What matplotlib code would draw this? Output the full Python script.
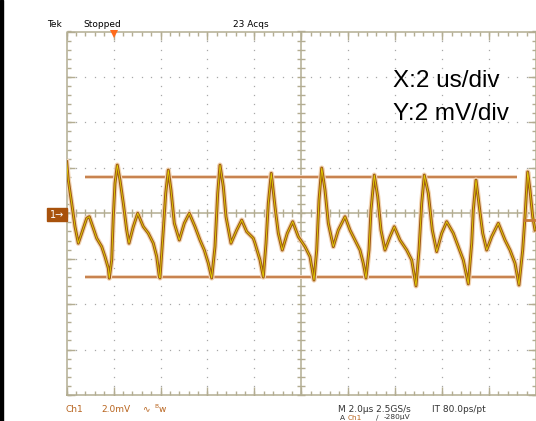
import numpy as np
import matplotlib
matplotlib.use('Agg')
import matplotlib.pyplot as plt
from matplotlib.patches import Rectangle
from matplotlib.markers import TICKDOWN, TICKUP, TICKLEFT, TICKRIGHT

# ---- data (time in us, voltage in mV) ----
time_us = [0.000, 0.068, 0.213, 0.354, 0.494, 0.639, 0.852, 0.963, 1.134, 1.278,
           1.492, 1.632, 1.773, 1.815, 1.918, 1.986, 2.058, 2.156, 2.271, 2.412,
           2.557, 2.655, 2.838, 3.026, 3.264, 3.478, 3.691, 3.836, 3.946, 3.976,
           4.117, 4.219, 4.330, 4.445, 4.586, 4.799, 5.012, 5.225, 5.468, 5.681,
           5.864, 6.035, 6.179, 6.320, 6.435, 6.533, 6.674, 6.789, 7.002, 7.245,
           7.458, 7.671, 7.952, 8.025, 8.238, 8.379, 8.494, 8.592, 8.719, 8.877,
           9.018, 9.188, 9.401, 9.631, 9.870, 10.156, 10.369, 10.539, 10.654, 10.752,
           10.867, 11.008, 11.149, 11.362, 11.575, 11.860, 12.073, 12.286, 12.499, 12.640,
           12.755, 12.883, 12.968, 13.109, 13.254, 13.394, 13.565, 13.778, 13.961, 14.204,
           14.490, 14.703, 14.886, 15.014, 15.129, 15.240, 15.410, 15.581, 15.768, 15.981,
           16.194, 16.476, 16.689, 16.902, 17.115, 17.260, 17.328, 17.443, 17.584, 17.729,
           17.899, 18.112, 18.393, 18.679, 18.892, 19.105, 19.275, 19.433, 19.531, 19.646,
           19.744, 19.859, 19.957]
ch1_mV = [2.27, 1.46, 0.44, -0.59, -1.32, -0.88, -0.22, -0.15, -0.66, -1.10,
          -1.47, -1.91, -2.42, -2.86, -2.06, -0.15, 1.32, 2.12, 1.46, 0.44,
          -0.74, -1.32, -0.59, 0.00, -0.59, -0.88, -1.32, -1.91, -2.79, -2.85,
          -0.74, 0.88, 1.90, 1.02, -0.44, -1.18, -0.44, 0.00, -0.59, -1.18,
          -1.62, -2.20, -2.85, -1.47, 0.88, 2.12, 1.17, -0.15, -1.32, -0.74,
          -0.30, -0.81, -1.10, -1.32, -2.06, -2.81, -1.32, 0.44, 1.76, 0.29,
          -0.88, -1.62, -0.88, -0.37, -1.03, -1.47, -1.91, -2.94, -1.62, 0.58,
          1.99, 1.02, -0.44, -1.47, -0.74, -0.15, -0.74, -1.18, -1.62, -2.20,
          -2.85, -1.62, 0.14, 1.68, 0.73, -0.74, -1.62, -1.03, -0.59, -1.18,
          -1.62, -2.06, -3.20, -1.62, 0.44, 1.68, 0.88, -0.74, -1.69, -0.88,
          -0.37, -0.88, -1.47, -2.06, -3.11, -1.32, 0.14, 1.46, 0.29, -0.88,
          -1.62, -1.03, -0.44, -1.18, -1.62, -2.20, -3.16, -1.62, -0.15, 1.82,
          1.02, -0.15, -0.74]

cursor_high_mV = 1.61
cursor_low_mV = -2.79
cursor_span_us = [0.78, 19.2]
trigger_level_mV = -0.28
trigger_pos_us = 2.03
x_div_us = 2
y_div_mV = 2
n_xdiv = 10
n_ydiv = 8

W, H = 536, 421
fig = plt.figure(figsize=(W / 100, H / 100), dpi=100, facecolor='white')
ax = fig.add_axes([66.7 / W, (H - 395) / H, (W - 66.7) / W, 363.5 / H])
xmax = n_xdiv * x_div_us
ymax = n_ydiv * y_div_mV / 2
ax.set_xlim(0, xmax)
ax.set_ylim(-ymax, ymax)
ax.axis('off')

GC = '#b3ad92'
DOT = '#a8a8a8'
# dotted graticule
xs_minor = np.arange(0, xmax + 1e-9, x_div_us / 5)
ys_minor = np.arange(-ymax, ymax + 1e-9, y_div_mV / 5)
xs_major = np.arange(0, xmax + 1e-9, x_div_us)
ys_major = np.arange(-ymax, ymax + 1e-9, y_div_mV)
for v in ys_major[1:-1]:
    if abs(v) > 1e-9:
        ax.plot(xs_minor, np.full_like(xs_minor, v), ls='none', marker='s',
                ms=0.9, mew=0, color=DOT)
for t in xs_major[1:-1]:
    if abs(t - xmax / 2) > 1e-9:
        ax.plot(np.full_like(ys_minor, t), ys_minor, ls='none', marker='s',
                ms=0.9, mew=0, color=DOT)

# border and centre cross
ax.plot([0, xmax, xmax, 0, 0], [-ymax, -ymax, ymax, ymax, -ymax],
        color=GC, lw=1.1, clip_on=False)
ax.plot([0, xmax], [0, 0], color=GC, lw=1.1)
ax.plot([xmax / 2, xmax / 2], [-ymax, ymax], color=GC, lw=1.1)

# ticks on border
kw = dict(ls='none', color=GC, mew=1.0, clip_on=False)
ax.plot(xs_minor, np.full_like(xs_minor, ymax), marker=TICKDOWN, ms=3, **kw)
ax.plot(xs_major, np.full_like(xs_major, ymax), marker=TICKDOWN, ms=6, **kw)
ax.plot(xs_minor, np.full_like(xs_minor, -ymax), marker=TICKUP, ms=3, **kw)
ax.plot(xs_major, np.full_like(xs_major, -ymax), marker=TICKUP, ms=6, **kw)
ax.plot(np.zeros_like(ys_minor), ys_minor, marker=TICKRIGHT, ms=3, **kw)
ax.plot(np.zeros_like(ys_major), ys_major, marker=TICKRIGHT, ms=6, **kw)
ax.plot(np.full_like(ys_minor, xmax), ys_minor, marker=TICKLEFT, ms=3, **kw)
ax.plot(np.full_like(ys_major, xmax), ys_major, marker=TICKLEFT, ms=6, **kw)
# ticks on centre cross
ax.plot(xs_minor, np.zeros_like(xs_minor), marker='|', ms=5.5, **kw)
ax.plot(np.full_like(ys_minor, xmax / 2), ys_minor, marker='_', ms=5.5, **kw)

# cursors
for lvl in (cursor_high_mV, cursor_low_mV):
    ax.plot(cursor_span_us, [lvl, lvl], color='#efd3bb', lw=2.8, solid_capstyle='butt')
    ax.plot(cursor_span_us, [lvl, lvl], color='#c47b45', lw=1.3, solid_capstyle='butt')

# trace
ax.plot(time_us, ch1_mV, color='#f2d4b4', lw=3.8, solid_joinstyle='round')
ax.plot(time_us, ch1_mV, color='#9e5a14', lw=2.1, solid_joinstyle='round')
ax.plot(time_us, ch1_mV, color='#e4d000', lw=0.6, solid_joinstyle='round')

# trigger level marker (right) and trigger position marker (top)
ax.plot([xmax - 0.55, xmax], [trigger_level_mV, trigger_level_mV],
        color='#c87a38', lw=2, clip_on=False, solid_capstyle='butt')
ax.plot([trigger_pos_us], [ymax - 0.1], marker='v', ms=6, color='#ff6a1a',
        mew=0, clip_on=False)

# channel marker
fig.patches.append(Rectangle((46.7 / W, (H - 221) / H), 20 / W, 12.7 / H,
                             transform=fig.transFigure, color='#a8520c'))
fig.text(56.7 / W, 1 - 214.8 / H, '1\u2192', color='white', fontsize=7,
         ha='center', va='center')

# left black strip
fig.patches.append(Rectangle((0, 0), 3 / W, 1, transform=fig.transFigure,
                             color='black'))

# header texts
top_y = 1 - 24.5 / H
fig.text(46.7 / W, top_y, 'Tek', fontsize=6.5, va='center', color='black')
fig.text(83.3 / W, top_y, 'Stopped', fontsize=6.5, va='center', color='black')
fig.text(232.7 / W, top_y, '23 Acqs', fontsize=6.5, va='center', color='black')

# footer texts
OR = '#b8641e'
bot_y = 1 - 409 / H
fig.text(65 / W, bot_y, 'Ch1', fontsize=6.5, va='center', color=OR)
fig.text(101.7 / W, bot_y, '2.0mV', fontsize=6.5, va='center', color=OR)
fig.text(141.7 / W, bot_y, '\u223f', fontsize=6.5, va='center', color=OR)
fig.text(154.5 / W, 1 - 406.5 / H, 'B', fontsize=4.2, va='center', color=OR)
fig.text(158.5 / W, bot_y, 'w', fontsize=6.5, va='center', color=OR)
fig.text(338 / W, bot_y, 'M 2.0\u00b5s 2.5GS/s', fontsize=6.5, va='center', color='#333333')
fig.text(431.7 / W, bot_y, 'IT 80.0ps/pt', fontsize=6.5, va='center', color='#333333')
low_y = 0.5 / H
fig.text(340 / W, low_y, 'A', fontsize=5.3, va='bottom', color='#333333')
fig.text(348 / W, low_y, 'Ch1', fontsize=5.3, va='bottom', color=OR)
fig.text(376 / W, low_y, '\u2215', fontsize=5.3, va='bottom', color='#333333')
fig.text(384 / W, low_y, '-280\u00b5V', fontsize=5.3, va='bottom', color='#333333')

# big annotation
fig.text(392.7 / W, 1 - 86.7 / H, 'X:2 us/div', fontsize=17.5,
         family='Liberation Sans', va='baseline', color='black')
fig.text(392.7 / W, 1 - 120 / H, 'Y:2 mV/div', fontsize=17.5,
         family='Liberation Sans', va='baseline', color='black')

fig.savefig('out.png', dpi=100, facecolor='white')
